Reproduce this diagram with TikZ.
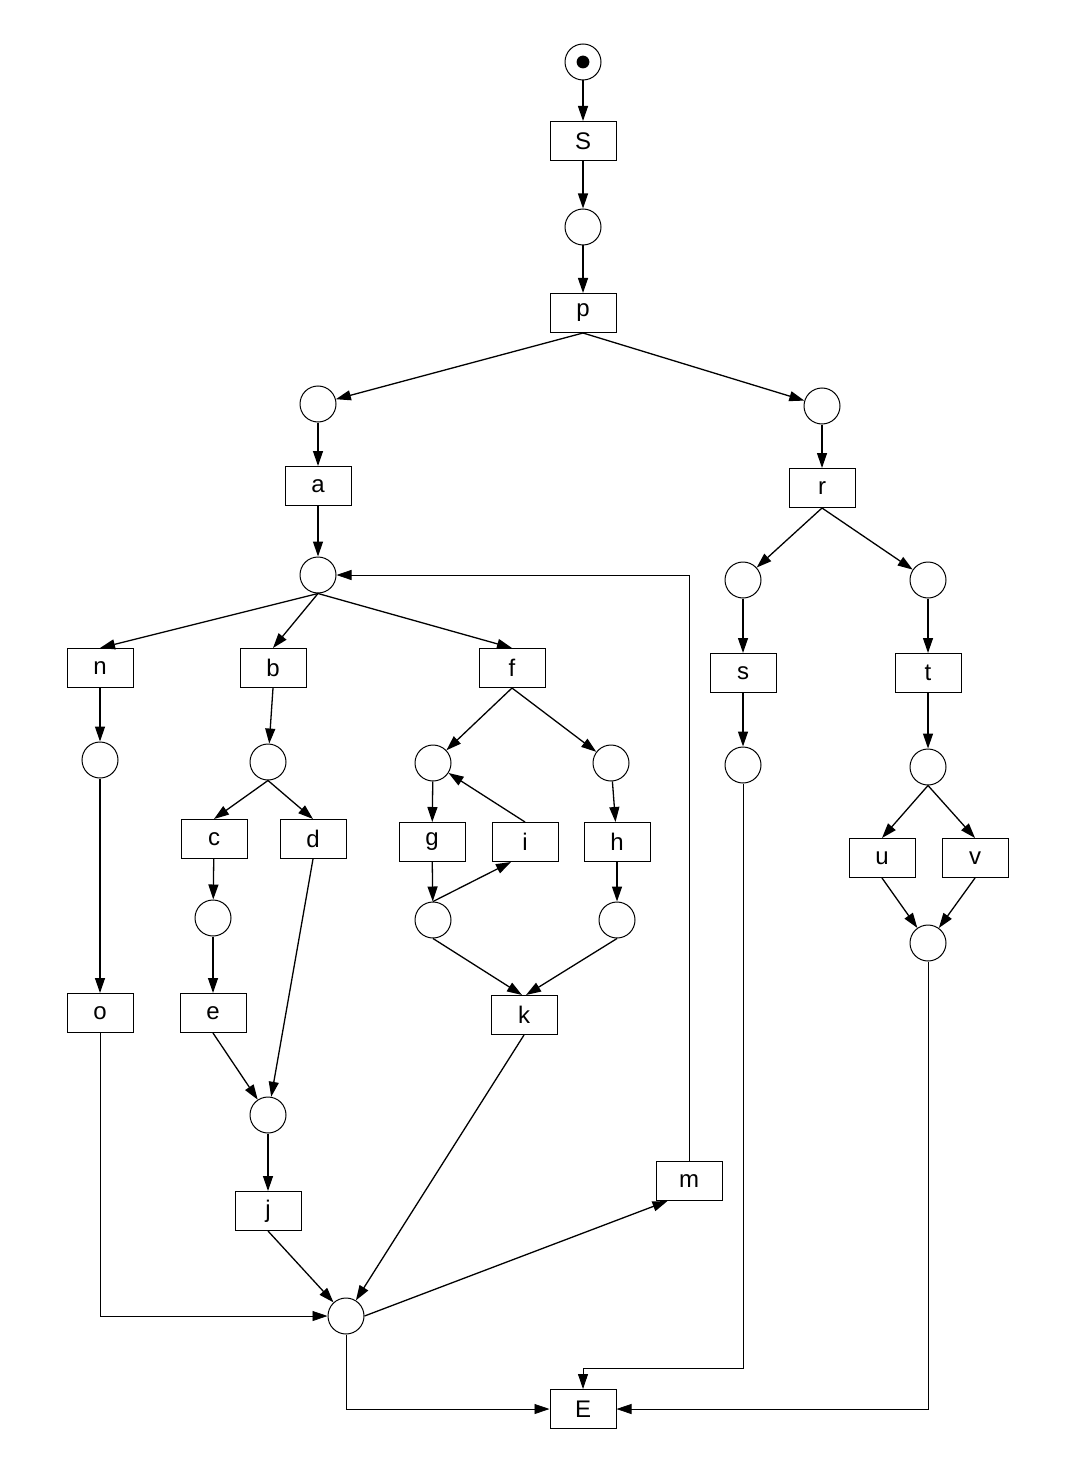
\documentclass[tikz,border=0pt]{standalone}
\usepackage{fontspec}
\setmainfont{Liberation Sans}
\usetikzlibrary{arrows.meta}
\begin{document}
\begin{tikzpicture}[x=0.5pt,y=-0.5pt,
  trans/.style={draw,line width=0.5pt,minimum width=33pt,minimum height=19.5pt,inner sep=0pt,font=\fontsize{12}{14}\selectfont},
  place/.style={draw,circle,line width=0.5pt,minimum size=18pt,inner sep=0pt},
  arc/.style={line width=0.65pt,-{Triangle[length=7.5pt,width=5pt]}}]
\useasboundingbox (0,0) rectangle (1078,1460);
% places and transitions
\node[place] (p0) at (583,62) {};
\fill (p0) circle (3.2pt);
\node[trans] (S) at (583,141) {S};
\node[place] (p1) at (583,227) {};
\node[trans] (p) at (583,313) {p};
\node[place] (pl) at (318,404) {};
\node[place] (pr) at (822,406) {};
\node[trans] (a) at (318,486) {a};
\node[trans] (r) at (822,488) {r};
\node[place] (pa) at (318,575) {};
\node[place] (prs) at (743,580) {};
\node[place] (prt) at (928,580) {};
\node[trans] (n) at (100,668) {n};
\node[trans] (b) at (273,668) {b};
\node[trans] (f) at (512,668) {f};
\node[trans] (s) at (743,673) {s};
\node[trans] (t) at (928,673) {t};
\node[place] (pn) at (100,760) {};
\node[place] (pb) at (268,762) {};
\node[place] (pfg) at (433,763) {};
\node[place] (pfh) at (611,763) {};
\node[place] (ps) at (743,765) {};
\node[place] (pt) at (928,767) {};
\node[trans] (c) at (214,839) {c};
\node[trans] (d) at (313,839) {d};
\node[trans] (g) at (432,842) {g};
\node[trans] (i) at (525,842) {i};
\node[trans] (h) at (617,842) {h};
\node[trans] (u) at (882,858) {u};
\node[trans] (v) at (975,858) {v};
\node[place] (pc) at (213,918) {};
\node[place] (pg) at (433,920) {};
\node[place] (ph) at (617,920) {};
\node[place] (puv) at (928,943) {};
\node[trans] (o) at (100,1013) {o};
\node[trans] (e) at (213,1013) {e};
\node[trans] (k) at (524,1015) {k};
\node[place] (pj) at (268,1115) {};
\node[trans] (j) at (268,1211) {j};
\node[trans] (m) at (689,1181) {m};
\node[place] (pz) at (346,1316) {};
\node[trans] (E) at (583,1409) {E};
\coordinate (sx) at (583,1368);
% arcs
\draw[arc] (p0) -- (S);
\draw[arc] (S) -- (p1);
\draw[arc] (p1) -- (p);
\draw[arc] (p.south) -- (pl);
\draw[arc] (p.south) -- (pr);
\draw[arc] (pl) -- (a);
\draw[arc] (pr) -- (r);
\draw[arc] (a) -- (pa);
\draw[arc] (r.south) -- (prs);
\draw[arc] (r.south) -- (prt);
\draw[arc] (pa.south) -- (n.north);
\draw[arc] (pa.south) -- (b.north);
\draw[arc] (pa.south) -- (f.north);
\draw[arc] (prs) -- (s);
\draw[arc] (prt) -- (t);
\draw[arc] (n) -- (pn);
\draw[arc] (b.south) -- (pb);
\draw[arc] (f.south) -- (pfg);
\draw[arc] (f.south) -- (pfh);
\draw[arc] (s) -- (ps);
\draw[arc] (t) -- (pt);
\draw[arc] (pb.south) -- (c.north);
\draw[arc] (pb.south) -- (d.north);
\draw[arc] (pfg) -- (g);
\draw[arc] (i.north) -- (pfg);
\draw[arc] (pfh) -- (h);
\draw[arc] (pt.south) -- (u.north);
\draw[arc] (pt.south) -- (v.north);
\draw[arc] (c) -- (pc);
\draw[arc] (g) -- (pg);
\draw[arc] (pg.north) -- ([xshift=-7pt]i.south);
\draw[arc] (h) -- (ph);
\draw[arc] (u.south) -- (puv);
\draw[arc] (v.south) -- (puv);
\draw[arc] (pn) -- (o);
\draw[arc] (pc) -- (e);
\draw[arc] (pg.south) -- ([xshift=-1pt]k.north);
\draw[arc] (ph.south) -- ([xshift=1pt]k.north);
\draw[arc] (e.south) -- (pj);
\draw[arc] (d.south) -- (pj);
\draw[arc] (pj) -- (j);
\draw[arc] (j.south) -- (pz);
\draw[arc] (k.south) -- (pz);
\draw[arc] (pz.east) -- ([xshift=6pt]m.south west);
\draw[arc,line width=0.4pt] (m.north) |- (pa.east);
\draw[arc,line width=0.4pt] (o.south) |- (pz.west);
\draw[line width=0.4pt] (ps.south) |- (sx);
\draw[arc,line width=0.4pt] (sx) -- (E.north);
\draw[arc,line width=0.4pt] (puv.south) |- (E.east);
\draw[arc,line width=0.4pt] (pz.south) |- (E.west);
\end{tikzpicture}
\end{document}
